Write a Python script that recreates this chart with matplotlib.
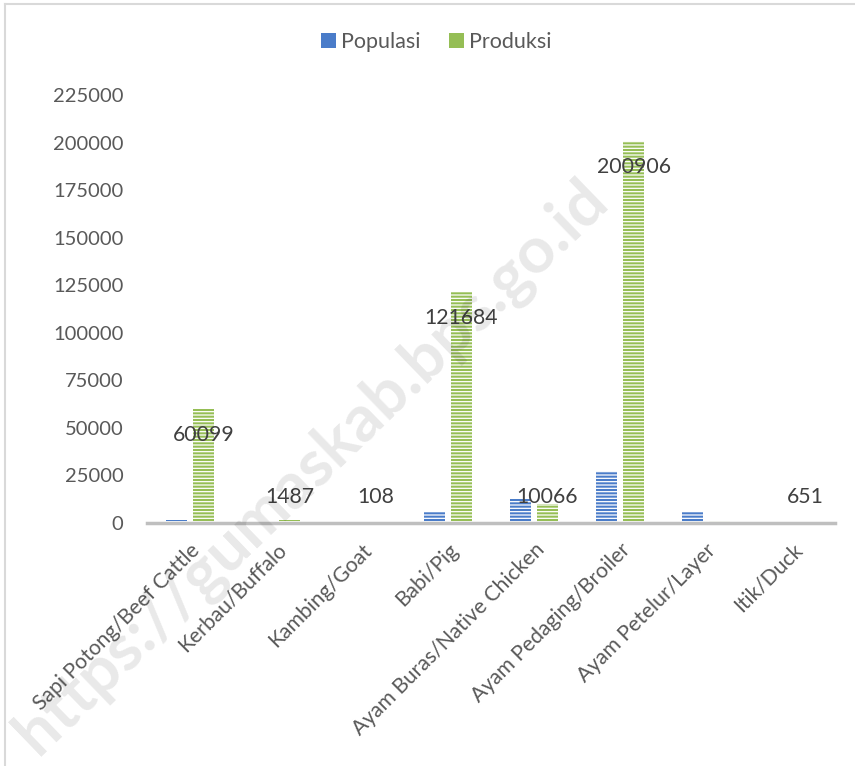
import numpy as np
import matplotlib
matplotlib.use('Agg')
import matplotlib.pyplot as plt
from matplotlib.lines import Line2D

plt.rcParams['font.family'] = ['Lato', 'DejaVu Sans']
plt.rcParams['hatch.linewidth'] = 0.9

# data
categories = ['Sapi Potong/Beef Cattle', 'Kerbau/Buffalo', 'Kambing/Goat', 'Babi/Pig',
              'Ayam Buras/Native Chicken', 'Ayam Pedaging/Broiler', 'Ayam Petelur/Layer', 'Itik/Duck']
populasi = [1500, 150, 250, 6000, 12800, 27200, 5800, 300]
produksi = [60099, 1487, 108, 121684, 10066, 200906, 1200, 651]
label_on = [True, True, True, True, True, True, False, True]
yticks = np.arange(0, 225001, 25000)

blue = '#4A7CC9'
green = '#95BE55'
text_col = '#404040'

fig = plt.figure(figsize=(8.55, 7.66), dpi=100)
ax = fig.add_axes([147/855, 243/766, (835-147)/855, (523-95)/766])

x = np.arange(len(categories))
w = 0.25
off = 0.157
ax.bar(x - off, populasi, w, color=blue, edgecolor='white', linewidth=0, hatch='-----', label='Populasi')
ax.bar(x + off, produksi, w, color=green, edgecolor='white', linewidth=0, hatch='-----', label='Produksi')

for i, v in enumerate(produksi):
    if not label_on[i]:
        continue
    ax.text(x[i] + off, max(v - 14000, 13700), str(v), ha='center', va='center',
            fontsize=15.3, color=text_col)

ax.set_xlim(-0.5, len(categories) - 0.5)
ax.set_ylim(0, 225000)
ax.set_yticks(yticks)
ax.set_yticklabels([str(t) for t in yticks], fontsize=14.5, color='#595959')
ax.set_xticks(x)
ax.set_xticklabels(categories, rotation=45, ha='right', rotation_mode='anchor',
                   fontsize=15.2, color='#595959')
ax.tick_params(axis='both', length=0)
ax.tick_params(axis='y', pad=17)
ax.tick_params(axis='x', pad=12)
for s in ['top', 'right', 'left']:
    ax.spines[s].set_visible(False)
ax.spines['bottom'].set_color('#BFBFBF')
ax.spines['bottom'].set_linewidth(2.5)

handles = [plt.Rectangle((0, 0), 1, 1, color=blue, hatch='-----', edgecolor='white', linewidth=0),
           plt.Rectangle((0, 0), 1, 1, color=green, hatch='-----', edgecolor='white', linewidth=0)]
fig.legend(handles, ['Populasi', 'Produksi'], loc='center', bbox_to_anchor=(0.51, 1 - 42/766),
           ncol=2, frameon=False, fontsize=15.5, handlelength=0.7, handleheight=0.7,
           handletextpad=0.25, columnspacing=1.3, labelcolor='#595959')

# chart border (top and left visible)
fig.add_artist(Line2D([5/855, 5/855], [0, 1 - 4/766], color='#D9D9D9', lw=1.5))
fig.add_artist(Line2D([5/855, 1], [1 - 4/766, 1 - 4/766], color='#D9D9D9', lw=1.5))

# watermark
fig.text(0.365, 0.39, 'https://gumaskab.bps.go.id', rotation=44, fontsize=47, fontweight='bold',
         color='#000000', alpha=0.09, ha='center', va='center', zorder=10)

fig.savefig('out.png', dpi=100)
